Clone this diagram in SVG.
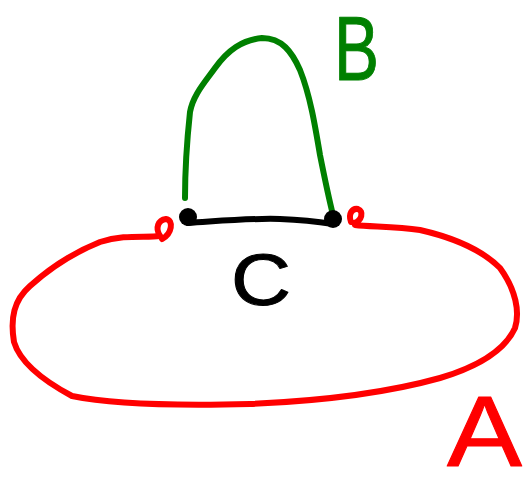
<svg xmlns="http://www.w3.org/2000/svg" width="527" height="489" viewBox="0 0 527 489">
<style>
.s{fill:none;stroke-linecap:round;stroke-linejoin:round;stroke-width:6}
.red{stroke:#ff0000}
.grn{stroke:#008000}
.blk{stroke:#000000}
.lbl{font-family:"Liberation Sans",Arial,sans-serif;font-weight:normal;stroke-width:1;stroke-linejoin:round}
</style>
<rect width="527" height="489" fill="#ffffff"/>
<g id="connectors">
<path class="s red" d="M160,236 C145,238 125,234 100,242 C75,252 50,268 30,286 C14,300 10,318 14,342 C20,362 42,380 72,396 C110,404 170,406 250,404 C320,401 390,392 440,378 C480,366 505,350 515,328 C520,312 516,290 500,268 C482,250 455,238 420,230 C395,226 370,227 355,225"/>
<path class="s red" d="M160,236 C155,228 158,220 166,219 C174,220 172,234 162,239"/>
<path class="s red" d="M351,222 C348,214 352,208 358,209 C364,211 362,221 354,223"/>
<path class="s grn" d="M185,198 C185,170 187,140 190,112 C193,95 205,82 215,68 C228,50 242,40 262,38 C282,38 292,52 300,70 C310,95 315,125 320,155 C324,175 328,195 333,215"/>
<path class="s blk" d="M188,223 C220,221 250,218 280,219 C305,220 320,222 333,224"/>
<circle cx="188" cy="217" r="9" fill="#000"/>
<circle cx="333" cy="219" r="9" fill="#000"/>
</g>
<g id="A"><text class="lbl" x="447" y="466" font-size="100" fill="#ff0000" stroke="#ff0000" textLength="75" lengthAdjust="spacingAndGlyphs">A</text></g>
<g id="B"><text class="lbl" x="334" y="80" font-size="90" fill="#008000" stroke="#008000" textLength="45" lengthAdjust="spacingAndGlyphs">B</text></g>
<g id="C"><text class="lbl" x="231" y="305" font-size="72" fill="#000000" stroke="#000000" textLength="60" lengthAdjust="spacingAndGlyphs">C</text></g>
</svg>
